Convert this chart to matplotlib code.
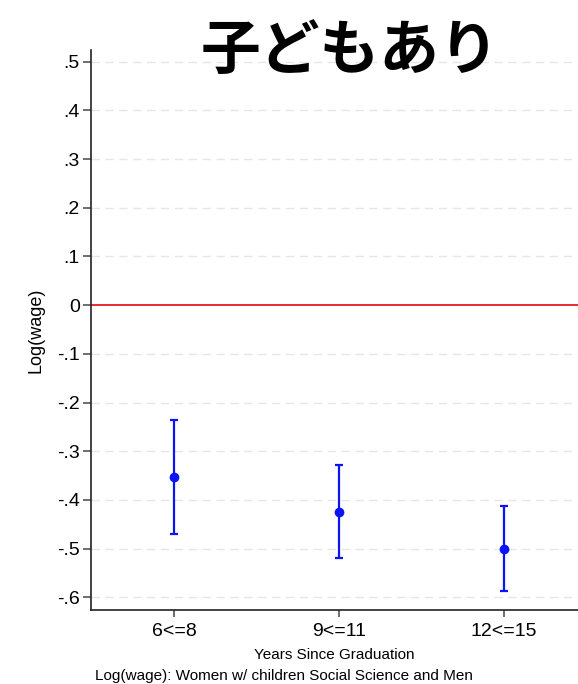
import matplotlib
matplotlib.use("Agg")
import matplotlib.pyplot as plt
import numpy as np

# Estimated wage gap by years since graduation
groups = ["6<=8", "9<=11", "12<=15"]
estimate = [-0.353, -0.424, -0.500]
ci_low = [-0.470, -0.520, -0.586]
ci_high = [-0.236, -0.328, -0.412]
yticks = [0.5, 0.4, 0.3, 0.2, 0.1, 0.0, -0.1, -0.2, -0.3, -0.4, -0.5, -0.6]
ytick_labels = [".5", ".4", ".3", ".2", ".1", "0", "-.1", "-.2", "-.3", "-.4", "-.5", "-.6"]

plt.rcParams["font.family"] = ["Liberation Sans", "DejaVu Sans"]

fig = plt.figure(figsize=(5.78, 6.84), dpi=100)
ax = fig.add_axes([91 / 578, 74 / 684, 1 - 91 / 578, (610 - 50) / 684])

x = np.arange(1, len(groups) + 1)
est = np.array(estimate)
lo = np.array(ci_low)
hi = np.array(ci_high)

# horizontal dashed grid (skip zero, drawn as reference line)
for v in yticks:
    if v != 0:
        ax.axhline(v, color="#e6e6e6", lw=1.0, ls=(0, (6, 4)), zorder=0)
ax.axhline(0, color="#e8191c", lw=1.3, zorder=1)

ax.errorbar(x, est, yerr=[est - lo, hi - est], fmt="o", color="#0a14f5",
            ecolor="#0a14f5", elinewidth=1.6, capsize=3, capthick=1.6,
            markersize=6, zorder=3)

ax.set_xlim(0.497, 3.45)
ax.set_ylim(-0.626, 0.524)
ax.set_xticks(x)
ax.set_xticklabels(groups, fontsize=14)
ax.set_yticks(yticks)
ax.set_yticklabels(ytick_labels, fontsize=14)

for side in ("top", "right"):
    ax.spines[side].set_visible(False)
for side in ("left", "bottom"):
    ax.spines[side].set_color("#222222")
    ax.spines[side].set_linewidth(1.2)
ax.tick_params(axis="y", length=6, width=1.2, color="#555555", pad=2)
ax.tick_params(axis="x", length=5, width=1.2, color="#555555", pad=4)

ax.set_xlabel("Years Since Graduation", fontsize=11, labelpad=6)
ax.set_ylabel("Log(wage)", fontsize=13, labelpad=9)

fig.text(95 / 578, 1 - 676 / 684, "Log(wage): Women w/ children Social Science and Men",
         fontsize=11, ha="left", va="center")

fig.text(350 / 578, 1 - 52 / 684, "子どもあり", fontsize=43, fontweight="bold",
         family=["Noto Sans CJK JP", "DejaVu Sans"], ha="center", va="center")

fig.savefig("out.png", dpi=100, facecolor="white")
